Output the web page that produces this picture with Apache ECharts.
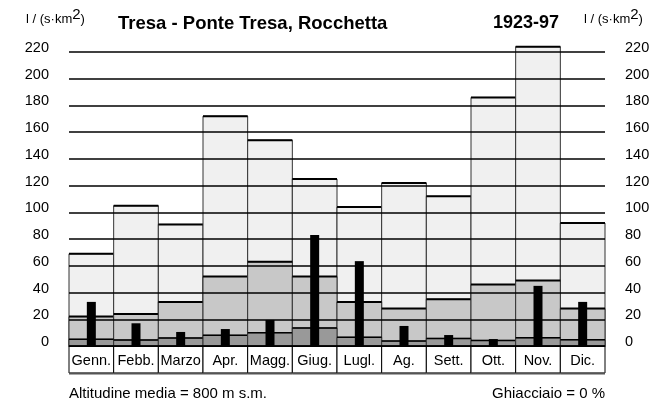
<!DOCTYPE html>
<html><head><meta charset="utf-8">
<script src="https://cdn.jsdelivr.net/npm/echarts@6/dist/echarts.min.js"></script>
<style>html,body{margin:0;padding:0;background:#fff}#c{width:672px;height:404px}</style>
</head><body><div id="c"></div>
<script>
var months = ['Genn.','Febb.','Marzo','Apr.','Magg.','Giug.','Lugl.','Ag.','Sett.','Ott.','Nov.','Dic.'];
var highValues = [69, 105, 91, 172, 154, 125, 104, 122, 112, 186, 224, 92];
var midValues  = [22, 24, 33, 52, 63, 52, 33, 28, 35, 46, 49, 28];
var lowValues  = [5, 4.5, 6, 8, 10, 13.5, 6.5, 3.7, 5.7, 4.2, 6.2, 4.7];
var barValues  = [33, 17, 10.5, 12.7, 19.5, 83, 63.5, 15, 8.2, 5.2, 45, 33];
var yTicks = [0, 220, 20];

var FONT = 'Liberation Sans, Arial, sans-serif';
function toData(arr){ return arr.map(function(v,i){ return [i, v]; }); }
function band(fill, topW){
  return function(params, api){
    var i = api.value(0), v = api.value(1);
    var p0 = api.coord([i, 0]), p1 = api.coord([i, v]);
    var w = api.size([1, 0])[0];
    var x0 = p0[0] - w/2;
    return {type:'group', children:[
      {type:'rect', shape:{x:x0, y:p1[1], width:w, height:p0[1]-p1[1]}, style:{fill:fill, stroke:'#333', lineWidth:1}},
      {type:'line', shape:{x1:x0, y1:p1[1], x2:x0+w, y2:p1[1]}, style:{stroke:'#000', lineWidth:topW}}
    ]};
  };
}
function thinBar(params, api){
  var i = api.value(0), v = api.value(1);
  var p0 = api.coord([i, 0]), p1 = api.coord([i, v]);
  var bw = 9;
  return {type:'rect', shape:{x:p0[0]-bw/2, y:p1[1], width:bw, height:p0[1]-p1[1]}, style:{fill:'#000'}};
}
function labelBox(params, api){
  var i = api.value(0);
  var p0 = api.coord([i, 0]);
  var w = api.size([1, 0])[0];
  var x0 = p0[0] - w/2;
  return {type:'group', children:[
    {type:'rect', shape:{x:x0, y:p0[1], width:w, height:27}, style:{fill:'#fff', stroke:'#000', lineWidth:1}},
    {type:'line', shape:{x1:x0, y1:p0[1]+27.5, x2:x0+w, y2:p0[1]+27.5}, style:{stroke:'#555', lineWidth:2}}
  ]};
}
var unitRich = {
  a:{fontSize:13, fontWeight:'normal', fontFamily:FONT, color:'#000'},
  b:{fontSize:15, fontWeight:'normal', fontFamily:FONT, color:'#000', padding:[0,0,9,0]}
};
var chart = echarts.init(document.getElementById('c'), null, {renderer:'canvas'});
chart.setOption({
  animation:false,
  backgroundColor:'#fff',
  title:[
    {text:'{a|l / (s·km}{b|2}{a|)}', left:21, top:2, textStyle:{fontWeight:'normal', rich:unitRich}},
    {text:'Tresa - Ponte Tresa, Rocchetta', left:113, top:9, textStyle:{fontSize:18.5, fontWeight:'bold', fontFamily:FONT, color:'#000'}},
    {text:'1923-97', left:488, top:9, textStyle:{fontSize:18, fontWeight:'bold', fontFamily:FONT, color:'#000'}},
    {text:'{a|l / (s·km}{b|2}{a|)}', left:579, top:2, textStyle:{fontWeight:'normal', rich:unitRich}},
    {text:'Altitudine media = 800 m s.m.', left:64, top:381, textStyle:{fontSize:15, fontWeight:'normal', fontFamily:FONT, color:'#000'}},
    {text:'Ghiacciaio = 0 %', right:62, top:381, textStyle:{fontSize:15, fontWeight:'normal', fontFamily:FONT, color:'#000'}}
  ],
  grid:{left:69, right:67, top:52, bottom:58},
  xAxis:[
    {type:'category', data:months, position:'bottom', z:6,
     axisLine:{show:true, lineStyle:{color:'#000', width:1}},
     axisTick:{show:false},
     axisLabel:{margin:7, fontSize:14.5, fontFamily:FONT, color:'#000', interval:0},
     splitLine:{show:false}}
  ],
  yAxis:[
    {type:'value', min:yTicks[0], max:yTicks[1], interval:yTicks[2], position:'left', z:3,
     axisLine:{show:false}, axisTick:{show:false},
     axisLabel:{margin:20, fontSize:14.5, fontFamily:FONT, color:'#000', verticalAlign:'bottom', lineHeight:8},
     splitLine:{show:true, lineStyle:{color:'#000', width:1.5}}},
    {type:'value', min:yTicks[0], max:yTicks[1], interval:yTicks[2], position:'right', z:3,
     axisLine:{show:false}, axisTick:{show:false},
     axisLabel:{margin:20, fontSize:14.5, fontFamily:FONT, color:'#000', verticalAlign:'bottom', lineHeight:8},
     splitLine:{show:false}}
  ],
  series:[
    {type:'custom', name:'high', renderItem:band('#f0f0f0', 2), data:toData(highValues), z:1, clip:false},
    {type:'custom', name:'mid', renderItem:band('#c8c8c8', 2), data:toData(midValues), z:1.5, clip:false},
    {type:'custom', name:'low', renderItem:band('#999999', 1.5), data:toData(lowValues), z:2, clip:false},
    {type:'custom', name:'bar', renderItem:thinBar, data:toData(barValues), z:5, clip:false},
    {type:'custom', name:'boxes', renderItem:labelBox, data:months.map(function(m,i){return [i];}), z:4, clip:false}
  ]
});
</script></body></html>
